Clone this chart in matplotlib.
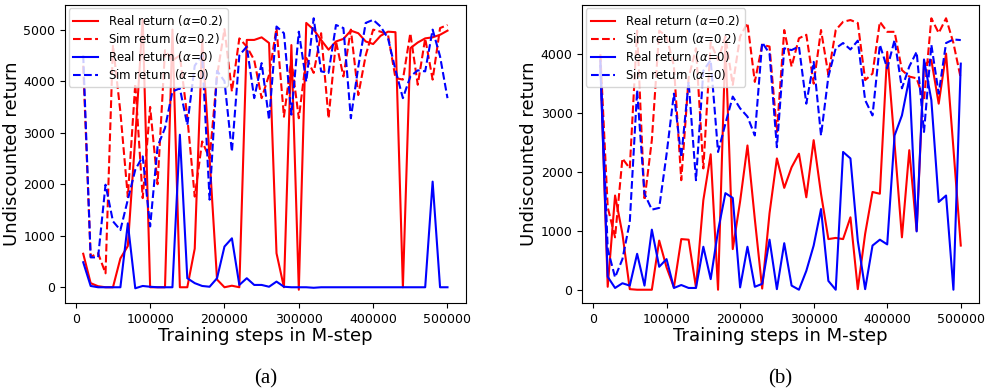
import numpy as np
import matplotlib
matplotlib.use("Agg")
import matplotlib.pyplot as plt

steps = np.arange(10000, 500001, 10000)

# panel (a)
real_a02 = [650, 80, 20, 0, 0, 560, 800, 2900, 5200, 0,
            0, 0, 5000, 0, 0, 750, 4800, 2500, 150, 0,
            30, 0, 4800, 4800, 4850, 4740, 660, 0, 4700, -48,
            5130, 5000, 4800, 4610, 4770, 4820, 4980, 4930, 4770, 4720,
            4880, 4960, 4950, 0, 4640, 4750, 4830, 4850, 4900, 4980]
sim_a02 = [4300, 590, 660, 270, 4700, 3400, 1750, 3950, 1730, 3500,
           2000, 4600, 4400, 4500, 3300, 1760, 2830, 2500, 4100, 5010,
           3800, 4830, 4670, 4410, 3670, 4120, 5030, 3310, 4410, 3280,
           4450, 4160, 4930, 3280, 4770, 4090, 5000, 3730, 4500, 5000,
           4960, 4900, 4060, 4030, 4930, 3930, 4830, 4030, 5030, 5090]
real_a0 = [485, 25, 0, 0, 0, 0, 1240, -20, 25, 10,
           0, 0, 0, 2960, 175, 80, 25, 10, 175, 790,
           950, 45, 175, 45, 45, 10, 110, 10, 0, 0,
           0, -10, 0, 0, 0, 0, 0, 0, 0, 0,
           0, 0, 0, 0, 0, 0, 0, 2050, 0, 0]
sim_a0 = [4500, 580, 580, 1990, 1280, 1110, 1700, 2280, 2540, 1180,
          2730, 3090, 3800, 3860, 3150, 4300, 4500, 1700, 4200, 4000,
          2630, 4500, 4670, 3670, 4350, 3250, 5060, 4930, 3350, 4960,
          3990, 5220, 4190, 4160, 5090, 5030, 3280, 4280, 5130, 5190,
          5060, 4830, 4220, 3670, 4090, 4210, 4190, 5000, 4480, 3670]

# panel (b)
real_b02 = [3900, 50, 1600, 950, 10, 0, 0, 0, 835, 380,
            40, 860, 850, 40, 1520, 2300, 0, 4200, 690, 1500,
            2450, 1200, 20, 1300, 2230, 1730, 2080, 2310, 1570, 2540,
            1630, 860, 880, 860, 1230, 10, 950, 1660, 1630, 4040,
            2480, 890, 2370, 1000, 3820, 3900, 3160, 4010, 2400, 750]
sim_b02 = [4000, 1400, 890, 2230, 2060, 4400, 1520, 2540, 4400, 4300,
           3800, 1860, 3600, 4100, 2060, 4200, 3900, 4300, 3480, 4300,
           4530, 3530, 4160, 4130, 2680, 4410, 3790, 4270, 4330, 3500,
           4410, 3650, 4410, 4550, 4580, 4530, 3560, 3670, 4550, 4380,
           4380, 3730, 3620, 3590, 3220, 4610, 4360, 4610, 4190, 3590]
real_b0 = [3800, 220, 30, 110, 70, 610, 70, 1020, 390, 520,
           30, 80, 30, 30, 730, 180, 1000, 1640, 1560, 40,
           730, 50, 100, 850, 10, 790, 70, 0, 320, 750,
           1370, 150, 0, 2340, 2230, 830, 10, 750, 850, 770,
           2620, 2960, 3590, 990, 3910, 3220, 1490, 1600, 0, 3840]
sim_b0 = [3900, 690, 210, 520, 1150, 3390, 1630, 1360, 1390, 2300,
          3330, 2250, 3530, 1860, 3720, 3900, 2340, 2820, 3280, 3080,
          2940, 2620, 4200, 4010, 2420, 4100, 4070, 4130, 3160, 3870,
          2620, 3620, 4100, 4190, 4080, 4230, 3220, 2960, 4160, 3760,
          4240, 3420, 3790, 4040, 2680, 4160, 3330, 4190, 4250, 4240]

labels = ["Real return ($\\alpha$=0.2)", "Sim return ($\\alpha$=0.2)",
          "Real return ($\\alpha$=0)", "Sim return ($\\alpha$=0)"]

fig = plt.figure(figsize=(9.85, 3.89), dpi=100)
ax1 = fig.add_axes([0.066, 0.2203, 0.4068, 0.7676])
ax2 = fig.add_axes([0.5912, 0.2203, 0.4025, 0.7676])

panels = [(ax1, real_a02, sim_a02, real_a0, sim_a0, "(a)"),
          (ax2, real_b02, sim_b02, real_b0, sim_b0, "(b)")]

for ax, r02, s02, r0, s0, cap in panels:
    ax.plot(steps, r02, 'r-', lw=1.5, label=labels[0])
    ax.plot(steps, s02, 'r--', lw=1.5, label=labels[1])
    ax.plot(steps, r0, 'b-', lw=1.5, label=labels[2])
    ax.plot(steps, s0, 'b--', lw=1.5, label=labels[3])
    ax.set_xticks([0, 100000, 200000, 300000, 400000, 500000])
    ax.set_xlabel("Training steps in M-step", fontsize=13, labelpad=1)
    ax.set_ylabel("Undiscounted return", fontsize=13, labelpad=2)
    ax.tick_params(labelsize=9)
    ax.legend(loc="upper left", fontsize=8.5, borderaxespad=0.3,
              handlelength=2.1, labelspacing=0.25)
    pos = ax.get_position()
    fig.text((pos.x0 + pos.x1) / 2, 0.015, cap, ha="center",
             fontsize=15, family="Liberation Serif")

ax1.set_yticks([0, 1000, 2000, 3000, 4000, 5000])
ax2.set_yticks([0, 1000, 2000, 3000, 4000])

fig.savefig("out.png", dpi=100)
